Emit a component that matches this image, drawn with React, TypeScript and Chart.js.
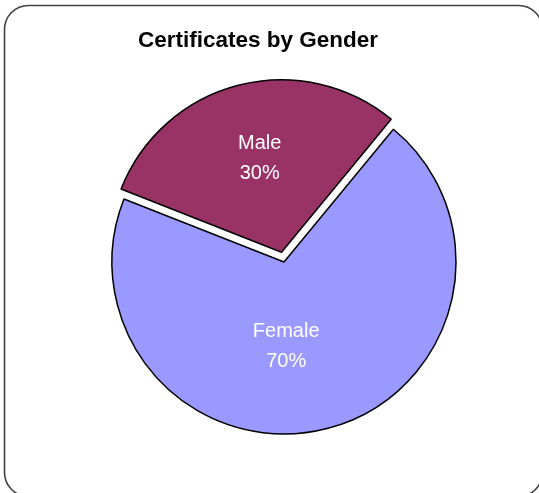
import React, { useEffect, useRef } from "react";
import { Chart, registerables } from "chart.js";

Chart.register(...registerables);

const categories = ["Female", "Male"];
const values = [70, 30];
const titleText = "Certificates by Gender";

const sliceColors = ["#9999FF", "#993366"];
// Chart.js 4 arcs move by offset / 4 pixels
const sliceOffsets = [0, 40];
// label placement style: fraction of radius and angular nudge (degrees)
const labelRadiusFrac = [0.49, 0.56];
const labelAngleShift = [13, 1.4];

const FONT = "'Liberation Sans', Arial, sans-serif";

const decorPlugin = {
  id: "decor",
  afterDraw(chart: any) {
    const ctx = chart.ctx as CanvasRenderingContext2D;
    // outer rounded border
    ctx.save();
    ctx.strokeStyle = "#404040";
    ctx.lineWidth = 1.6;
    ctx.beginPath();
    (ctx as any).roundRect(4.5, 5.5, 538, 491, 24);
    ctx.stroke();
    // title
    ctx.fillStyle = "#000";
    ctx.font = `bold 22.5px ${FONT}`;
    ctx.textAlign = "center";
    ctx.textBaseline = "middle";
    ctx.fillText(titleText, 258, 41);
    // slice labels
    const meta = chart.getDatasetMeta(0);
    const total = values.reduce((a, b) => a + b, 0);
    ctx.fillStyle = "#FFFFFF";
    ctx.font = `20px ${FONT}`;
    meta.data.forEach((arc: any, i: number) => {
      const p = arc.getProps(["x", "y", "startAngle", "endAngle", "outerRadius"], true);
      const midRaw = (p.startAngle + p.endAngle) / 2;
      const mid = midRaw + (labelAngleShift[i] * Math.PI) / 180;
      const off = sliceOffsets[i] / 4;
      const cx = p.x + Math.cos(midRaw) * off;
      const cy = p.y + Math.sin(midRaw) * off;
      const r = p.outerRadius * labelRadiusFrac[i];
      const lx = cx + Math.cos(mid) * r;
      const ly = cy + Math.sin(mid) * r;
      const pct = Math.round((values[i] / total) * 100) + "%";
      ctx.fillText(categories[i], lx, ly - 15);
      ctx.fillText(pct, lx, ly + 15);
    });
    ctx.restore();
  },
};

export default function App() {
  const ref = useRef<HTMLCanvasElement | null>(null);
  useEffect(() => {
    document.body.style.margin = "0";
    document.body.style.overflow = "hidden";
    if (!ref.current) return;
    const chart = new Chart(ref.current, {
      type: "pie",
      data: {
        labels: categories,
        datasets: [
          {
            data: values,
            backgroundColor: sliceColors,
            borderColor: "#000000",
            borderWidth: 1.5,
            offset: sliceOffsets,
          },
        ],
      },
      options: {
        animation: false,
        responsive: false,
        rotation: 39.5,
        radius: 172,
        layout: { padding: { left: 29, top: 31, right: 0, bottom: 0 } },
        plugins: {
          legend: { display: false },
          title: { display: false },
          tooltip: { enabled: false },
        },
      },
      plugins: [decorPlugin],
    });
    return () => chart.destroy();
  }, []);
  return (
    <div style={{ position: "fixed", left: 0, top: 0, width: 539, height: 493, background: "#fff" }}>
      <canvas ref={ref} width={539} height={493} style={{ width: 539, height: 493, display: "block" }} />
    </div>
  );
}
